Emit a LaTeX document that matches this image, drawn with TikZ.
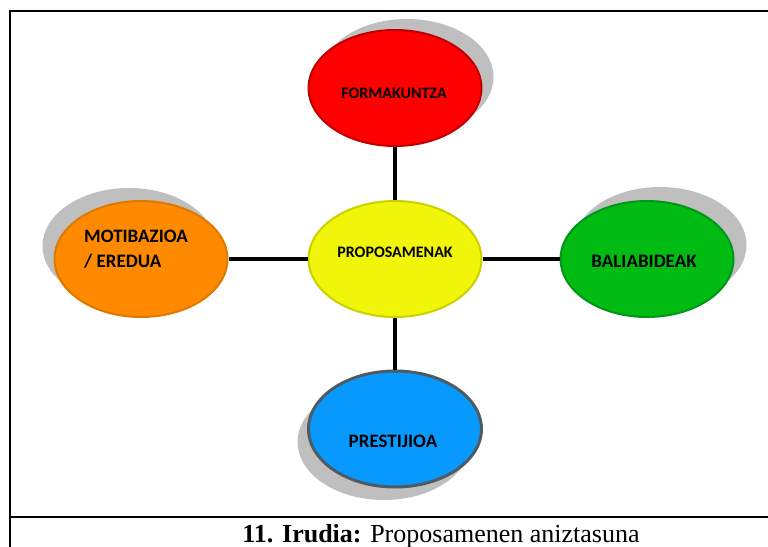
\documentclass[tikz,border=0pt]{standalone}
\usepackage{fontspec}
\setmainfont{Liberation Serif}
\newfontfamily\labelfont{Carlito}
\usetikzlibrary{shapes.geometric}
\definecolor{shadowgray}{HTML}{BFBFBF}
\definecolor{redfill}{HTML}{FF0000}
\definecolor{redline}{HTML}{C00000}
\definecolor{yellowfill}{HTML}{F0F50A}
\definecolor{yellowline}{HTML}{CDD000}
\definecolor{orangefill}{HTML}{FF8A00}
\definecolor{orangeline}{HTML}{E07800}
\definecolor{greenfill}{HTML}{00BB12}
\definecolor{greenline}{HTML}{00961A}
\definecolor{bluefill}{HTML}{0899FF}
\definecolor{blueline}{HTML}{4F5B62}
\begin{document}
\begin{tikzpicture}[x=1pt,y=-1pt,
   bubble/.style={ellipse,draw,line width=2pt,inner sep=0pt,
      minimum width=173pt,minimum height=116pt},
   backdrop/.style={bubble,draw=none,fill=shadowgray},
   link/.style={line width=4.5pt},
   tag/.style={font=\labelfont\bfseries\fontsize{19}{25}\selectfont,
      inner sep=0pt,anchor=base},
   frame/.style={line width=2pt}]

\useasboundingbox (0,0) rectangle (768,546);

\node[backdrop] (formakuntza-s) at (407,77) {};
\node[backdrop] (motibazioa-s) at (129,246) {};
\node[backdrop] (baliabideak-s) at (660,245) {};
\node[backdrop] (prestijioa-s) at (384,442) {};

\node[bubble,fill=redfill,draw=redline] (formakuntza) at (395,88) {};
\node[bubble,fill=yellowfill,draw=yellowline] (proposamenak) at (395,259) {};
\node[bubble,fill=orangefill,draw=orangeline] (motibazioa) at (141,259) {};
\node[bubble,fill=greenfill,draw=greenline] (baliabideak) at (647,259) {};
\node[bubble,fill=bluefill,draw=blueline,line width=3pt] (prestijioa) at (395,429) {};

\node[tag,font=\labelfont\bfseries\fontsize{16}{20}\selectfont]
   (formakuntza-t) at (394,98) {FORMAKUNTZA};
\node[tag,font=\labelfont\bfseries\fontsize{16}{20}\selectfont]
   (proposamenak-t) at (395,257) {PROPOSAMENAK};
\node[tag,anchor=north west,align=left]
   (motibazioa-t) at (84,230) {MOTIBAZIOA\\/ EREDUA};
\node[tag] (baliabideak-t) at (644,267) {BALIABIDEAK};
\node[tag] (prestijioa-t) at (393,447) {PRESTIJIOA};

\draw[link] (formakuntza) -- (proposamenak);
\draw[link] (proposamenak) -- (prestijioa);
\draw[link] (motibazioa) -- (proposamenak);
\draw[link] (proposamenak) -- (baliabideak);

\draw[frame] (10,560) -- (10,11) -- (790,11);
\draw[frame] (10,517) -- (790,517);

\node[anchor=base,inner sep=0pt,font=\fontsize{26}{30}\selectfont]
   (caption) at (441,542) {\textbf{11. Irudia:} Proposamenen aniztasuna};

\end{tikzpicture}
\end{document}
